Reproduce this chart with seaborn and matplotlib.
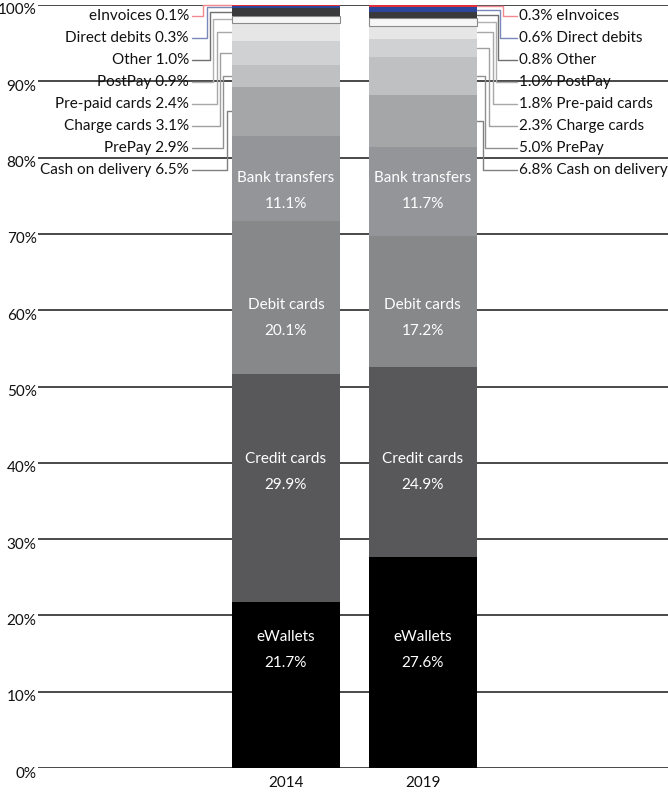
import matplotlib
matplotlib.use("Agg")
import matplotlib.pyplot as plt
import matplotlib.transforms as mtransforms
import seaborn as sns
import numpy as np

# data (share of e-commerce payments, %)
years = ["2014", "2019"]
methods = ["eWallets", "Credit cards", "Debit cards", "Bank transfers",
           "Cash on delivery", "PrePay", "Charge cards", "Pre-paid cards",
           "PostPay", "Other", "Direct debits", "eInvoices"]
share_2014 = [21.7, 29.9, 20.1, 11.1, 6.5, 2.9, 3.1, 2.4, 0.9, 1.0, 0.3, 0.1]
share_2019 = [27.6, 24.9, 17.2, 11.7, 6.8, 5.0, 2.3, 1.8, 1.0, 0.8, 0.6, 0.3]
inside = methods[:4]          # labelled inside the bars
outside = methods[4:]         # labelled with leader lines

colors = ["#000000", "#58585a", "#87888a", "#949598", "#a5a6a8", "#bfc0c2",
          "#d0d1d3", "#e6e6e7", "#f6f6f6", "#3a3a3c", "#2c469c", "#e0303c"]
leader_colors = ["#707070", "#808080", "#909090", "#a0a0a0", "#a8a8a8",
                 "#b0b0b0", "#707070", "#7888b8", "#f08890"]

sns.set_theme(style="white")
plt.rcParams["font.family"] = ["Lato", "DejaVu Sans"]

fig = plt.figure(figsize=(6.68, 7.93), dpi=100)
ax = fig.add_axes([38 / 668, 1 - 768 / 793, 1 - 38 / 668, (768 - 5) / 793])

x = np.arange(len(years))
width = 0.79
data = np.array([share_2014, share_2019])
bottoms = np.zeros(len(years))
for i, m in enumerate(methods):
    ec = "#8a8a8a" if m == "PostPay" else colors[i]
    ax.bar(x, data[:, i], width, bottom=bottoms, color=colors[i],
           edgecolor=ec, linewidth=0.8 if m == "PostPay" else 0, zorder=2)
    bottoms += data[:, i]

# gridlines
for g in range(0, 101, 10):
    ax.axhline(g, color="#3a3a3a", lw=1.3, zorder=1)

ax.set_xlim(-1.81, 2.79)
ax.set_ylim(0, 100)
ax.set_yticks(range(0, 101, 10))
ax.set_yticklabels([f"{g}%" for g in range(0, 101, 10)], fontsize=11, color="#111111")
ax.set_xticks(x)
ax.set_xticklabels(years, fontsize=11, color="#111111")
ax.tick_params(axis="y", length=0, pad=1)
ax.tick_params(axis="x", length=0, pad=6)
shift = mtransforms.ScaledTranslation(0, -4 / 100, fig.dpi_scale_trans)
for lab in ax.get_yticklabels():
    lab.set_transform(lab.get_transform() + shift)
for s in ax.spines.values():
    s.set_visible(False)

# labels inside bars
inside_y = [15.5, 38.8, 59.0, 75.6]
for j in range(len(years)):
    for k, m in enumerate(inside):
        ax.text(x[j], inside_y[k] + 1.7, m, color="white", ha="center",
                va="center", fontsize=11, zorder=3)
        ax.text(x[j], inside_y[k] - 1.7, f"{data[j, k]:.1f}%", color="white",
                ha="center", va="center", fontsize=11, zorder=3)

# leader-line labels
px = lambda p: (p - 286) / 137.0
label_y = [78.37 + 2.88 * n for n in range(len(outside))]  # bottom -> top
left_elbow = [227, 223, 220, 217, 213, 210, 207, 203]
right_elbow = [483, 485, 489, 493, 496, 498, 500, 503]
cum = np.cumsum(data, axis=1) - data / 2
for n, m in enumerate(outside):
    i = methods.index(m)
    lc = leader_colors[n + 1]
    ly = label_y[n]
    # left side (2014)
    cy = cum[0, i]
    ax.plot([px(192), px(left_elbow[n]), px(left_elbow[n]), px(232)],
            [ly, ly, cy, cy], color=lc, lw=1, zorder=1.5, clip_on=False)
    ax.text(px(189), ly, f"{m} {data[0, i]:.1f}%", ha="right", va="center",
            fontsize=11, color="#111111", zorder=3)
    # right side (2019)
    cy = cum[1, i]
    ax.plot([px(477), px(right_elbow[n]), px(right_elbow[n]), px(517)],
            [cy, cy, ly, ly], color=lc, lw=1, zorder=1.5, clip_on=False)
    ax.text(px(519), ly, f"{data[1, i]:.1f}% {m}", ha="left", va="center",
            fontsize=11, color="#111111", zorder=3)

fig.savefig("out.png", dpi=100)
